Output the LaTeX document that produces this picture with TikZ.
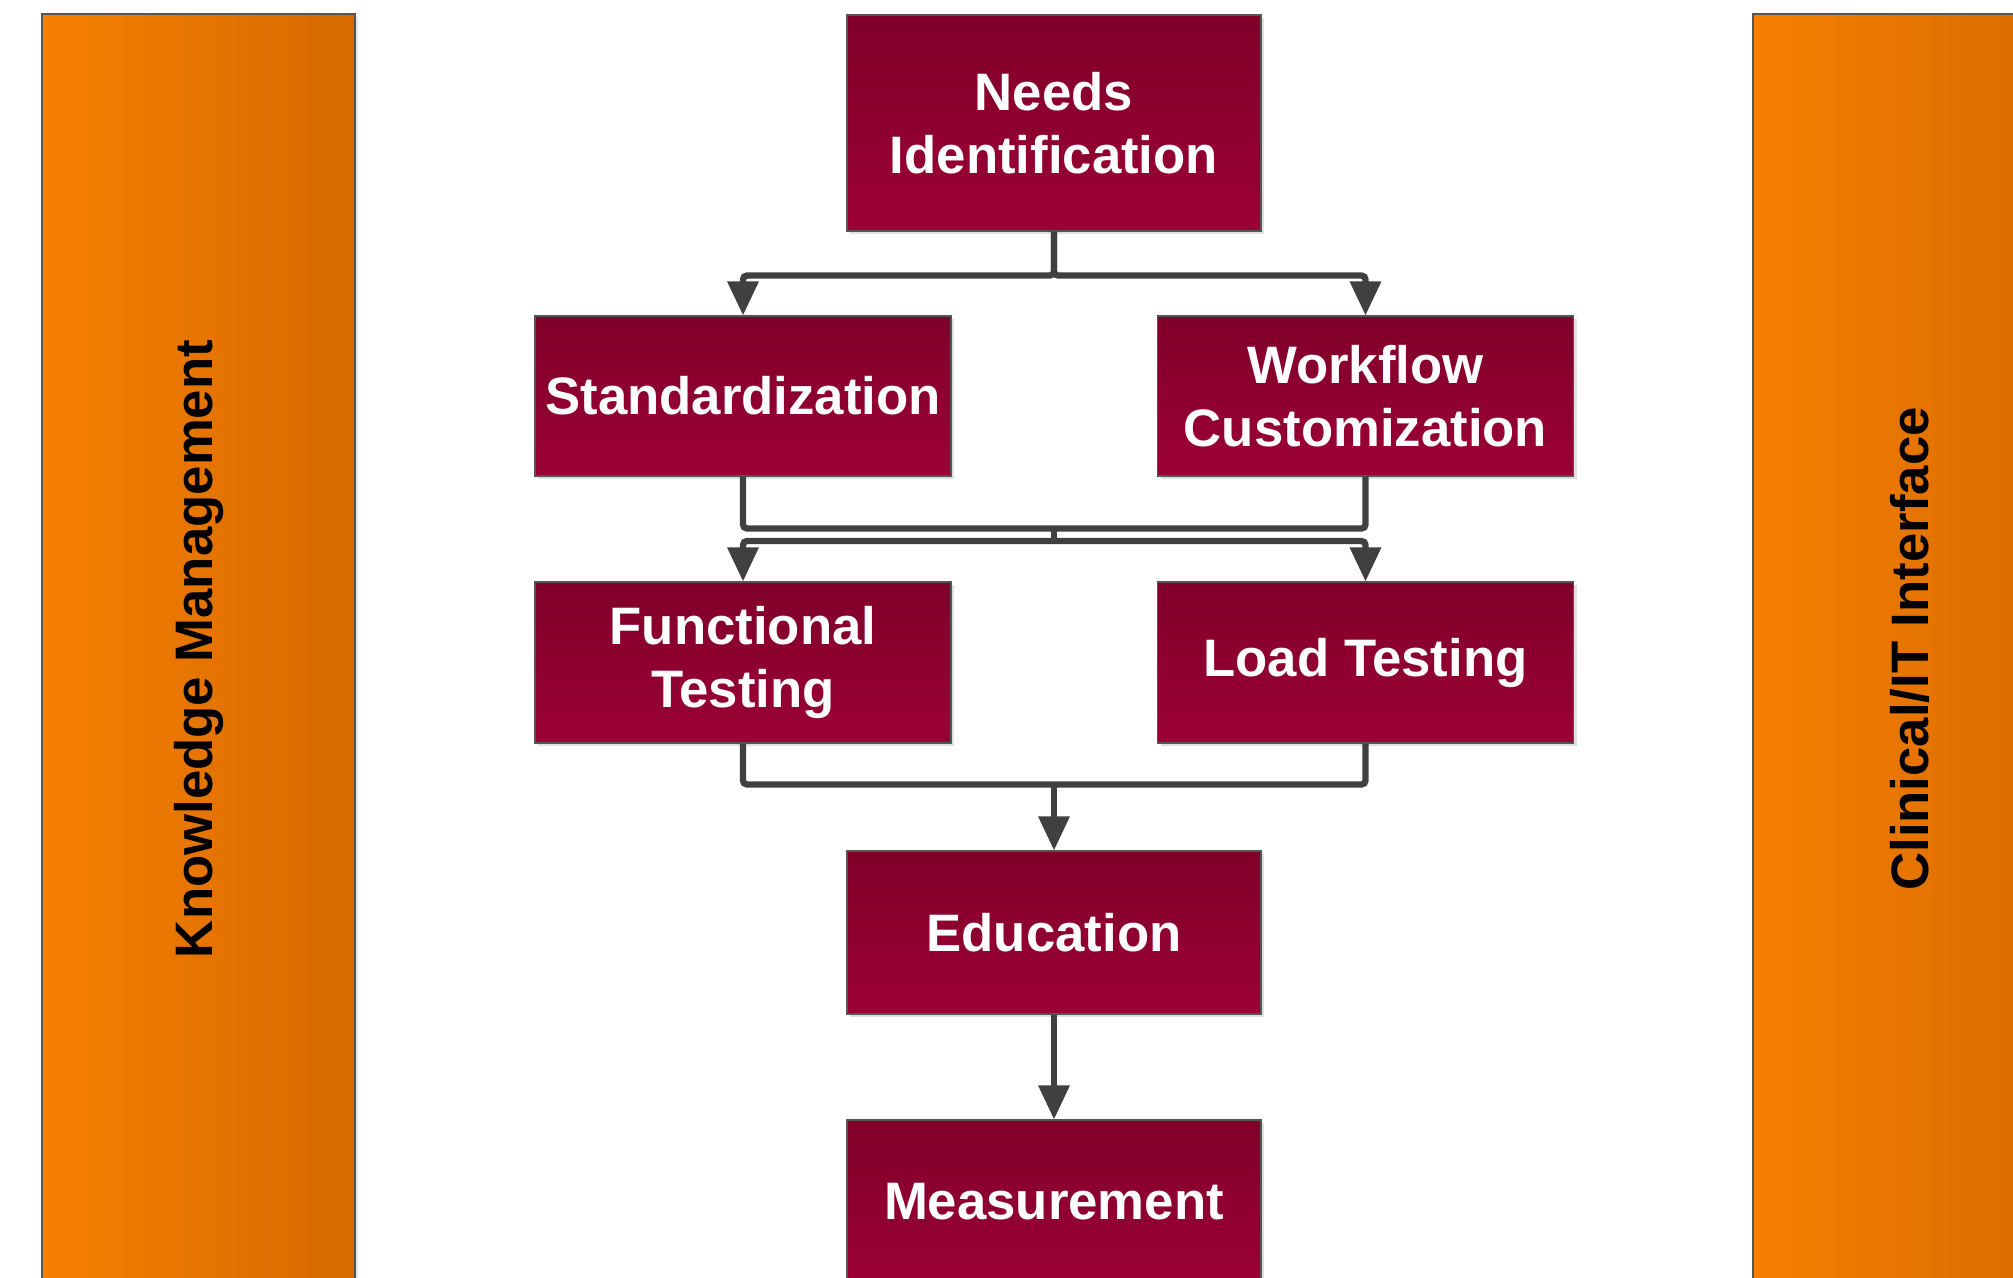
\documentclass[tikz,border=0pt]{standalone}
\usepackage{fontspec}
\setmainfont{Liberation Sans}
\usetikzlibrary{arrows.meta,shadows}

\definecolor{boxtop}{RGB}{128,0,42}
\definecolor{boxbot}{RGB}{155,0,52}
\definecolor{barleft}{RGB}{246,128,0}
\definecolor{barright}{RGB}{214,106,0}
\definecolor{linkgray}{RGB}{64,64,64}
\definecolor{edgegray}{RGB}{85,85,85}

\tikzset{
  stage/.style={draw=edgegray, line width=0.6pt, top color=boxtop, bottom color=boxbot,
    text=white, font=\fontsize{30}{36}\selectfont\bfseries, align=center, inner sep=0pt,
    drop shadow={shadow xshift=0.06cm, shadow yshift=-0.06cm, opacity=0.25, fill=gray}},
  sidebar/.style={draw=edgegray, line width=0.8pt, left color=barleft, right color=barright,
    minimum width=6.26cm, minimum height=25.4cm, inner sep=0pt,
    drop shadow={shadow xshift=0.06cm, shadow yshift=-0.06cm, opacity=0.2, fill=gray}},
  sidetext/.style={rotate=90, font=\fontsize{30}{36}\selectfont\bfseries, text=black},
  link/.style={draw=linkgray, line width=3.6pt, rounded corners=0.08cm,
    -{Triangle[length=0.68cm, width=0.6cm]}},
  joint/.style={draw=linkgray, line width=3.6pt, rounded corners=0.08cm},
}

\begin{document}
\begin{tikzpicture}
    \clip (0,0) rectangle (40.26,-25.54);

    % side bars
    \node[sidebar] (km) at (3.97,-12.98) {};
    \node[sidetext] (kmtext) at (km) {Knowledge Management};
    \node[sidebar] (cii) at (38.19,-12.98) {};
    \node[sidetext] (ciitext) at (cii) {Clinical/IT Interface};

    % process steps
    \node[stage, minimum width=8.28cm, minimum height=4.32cm] (needs) at (21.08,-2.46) {Needs\\Identification};
    \node[stage, minimum width=8.32cm, minimum height=3.2cm] (std) at (14.86,-7.92) {Standardization};
    \node[stage, minimum width=8.32cm, minimum height=3.2cm] (wfc) at (27.31,-7.92) {Workflow\\Customization};
    \node[stage, minimum width=8.32cm, minimum height=3.22cm] (func) at (14.86,-13.25) {Functional\\Testing};
    \node[stage, minimum width=8.32cm, minimum height=3.22cm] (load) at (27.31,-13.25) {Load Testing};
    \node[stage, minimum width=8.28cm, minimum height=3.26cm] (edu) at (21.08,-18.65) {Education};
    \node[stage, minimum width=8.28cm, minimum height=3.26cm] (meas) at (21.08,-24.03) {Measurement};

    \coordinate (merge) at (21.08,-10.56);
    \coordinate (split) at (21.08,-10.82);
    \coordinate (join) at (21.08,-15.66);

    % connectors
    \draw[link] (needs.south) -- ++(0,-0.88) -| (std.north);
    \draw[link] (needs.south) -- ++(0,-0.88) -| (wfc.north);

    \draw[joint] (std.south) -- ++(0,-1.04) -| (wfc.south);
    \draw[joint] (merge) -- (split);
    \draw[link] (split) -| (func.north);
    \draw[link] (split) -| (load.north);

    \draw[joint] (func.south) -- ++(0,-0.82) -| (load.south);
    \draw[link] (join) -- (edu.north);
    \draw[link] (edu.south) -- (meas.north);
\end{tikzpicture}
\end{document}
